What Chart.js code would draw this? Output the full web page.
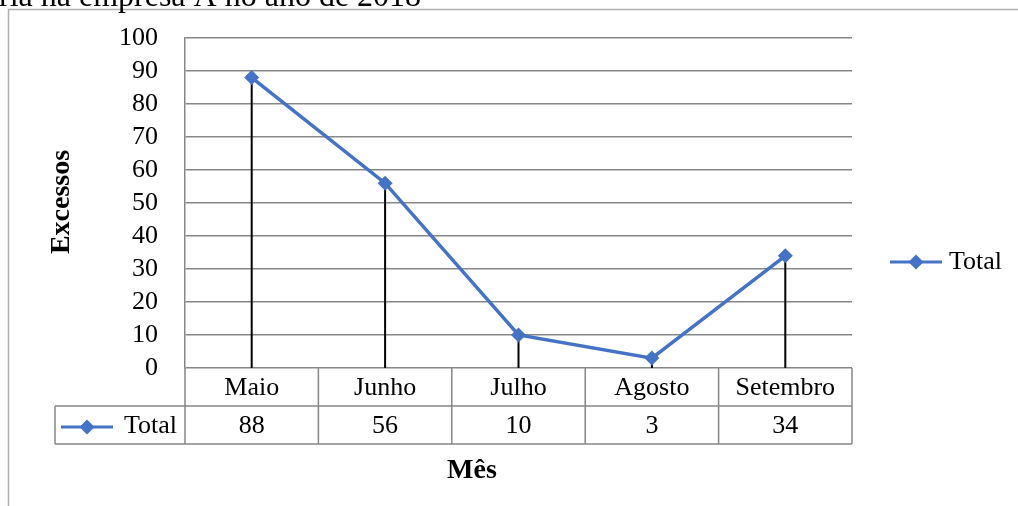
<!DOCTYPE html>
<html>
<head>
<meta charset="utf-8">
<script src="https://cdn.jsdelivr.net/npm/chart.js@4/dist/chart.umd.min.js"></script>
<style>
  body { margin: 0; background: #fff; }
  canvas { display: block; }
</style>
</head>
<body>
<canvas id="chart" width="1018" height="506"></canvas>
<script>
// data
const months = ['Maio', 'Junho', 'Julho', 'Agosto', 'Setembro'];
const totals = [88, 56, 10, 3, 34];
const seriesName = 'Total';
const yMax = 100;
const yStep = 10;

const blue = '#4472C4';
const grey = '#878787';
const serif = '"Liberation Serif", "Times New Roman", serif';

function diamond(ctx, x, y, r) {
    ctx.beginPath();
    ctx.moveTo(x, y - r);
    ctx.lineTo(x + r, y);
    ctx.lineTo(x, y + r);
    ctx.lineTo(x - r, y);
    ctx.closePath();
    ctx.fill();
}

function legendKey(ctx, x1, x2, y) {
    ctx.strokeStyle = blue;
    ctx.lineWidth = 3;
    ctx.beginPath();
    ctx.moveTo(x1, y);
    ctx.lineTo(x2, y);
    ctx.stroke();
    ctx.fillStyle = blue;
    diamond(ctx, (x1 + x2) / 2, y, 7.5);
}

// drop lines under the series
const dropLines = {
    id: 'dropLines',
    beforeDatasetsDraw(chart) {
        const ctx = chart.ctx;
        const bottom = chart.chartArea.bottom;
        ctx.save();
        ctx.strokeStyle = '#000';
        ctx.lineWidth = 2;
        chart.getDatasetMeta(0).data.forEach(pt => {
            ctx.beginPath();
            ctx.moveTo(pt.x, pt.y);
            ctx.lineTo(pt.x, bottom);
            ctx.stroke();
        });
        ctx.restore();
    }
};

// frame, titles, data table and legend
const extras = {
    id: 'extras',
    afterDraw(chart) {
        const ctx = chart.ctx;
        const area = chart.chartArea;
        const xScale = chart.scales.x;
        ctx.save();

        // outer chart border (partly outside the picture)
        ctx.strokeStyle = '#b0b0b0';
        ctx.lineWidth = 1.5;
        ctx.beginPath();
        ctx.moveTo(8.5, 510);
        ctx.lineTo(8.5, 9.5);
        ctx.lineTo(1020, 9.5);
        ctx.stroke();

        // cut-off caption above the chart
        ctx.fillStyle = '#000';
        ctx.font = '32px ' + serif;
        ctx.textAlign = 'left';
        ctx.textBaseline = 'alphabetic';
        ctx.fillText('ria na empresa A no ano de 2018', -1, 6);

        // y axis title
        ctx.font = 'bold 28px ' + serif;
        ctx.textAlign = 'center';
        ctx.textBaseline = 'middle';
        ctx.save();
        ctx.translate(62, 202);
        ctx.rotate(-Math.PI / 2);
        ctx.fillText('Excessos', 0, 0);
        ctx.restore();

        // data table
        const colW = (area.right - area.left) / months.length;
        const row1 = area.bottom, row2 = 406, row3 = 444;
        const legendLeft = 55;
        ctx.strokeStyle = grey;
        ctx.lineWidth = 1.5;
        ctx.beginPath();
        ctx.moveTo(area.left, row1); ctx.lineTo(area.left, row3);
        ctx.moveTo(legendLeft, row2); ctx.lineTo(area.right, row2);
        ctx.moveTo(legendLeft, row3); ctx.lineTo(area.right, row3);
        ctx.moveTo(legendLeft, row2); ctx.lineTo(legendLeft, row3);
        for (let i = 1; i <= months.length; i++) {
            const x = area.left + colW * i;
            ctx.moveTo(x, row1); ctx.lineTo(x, row3);
        }
        ctx.stroke();

        ctx.fillStyle = '#000';
        ctx.font = '26px ' + serif;
        ctx.textAlign = 'center';
        months.forEach((m, i) => {
            const x = xScale.getPixelForValue(i);
            ctx.fillText(m, x, (row1 + row2) / 2 + 1);
            ctx.fillText(String(totals[i]), x, (row2 + row3) / 2 + 1);
        });

        // legend key inside the table
        legendKey(ctx, 61, 113, 427);
        ctx.fillStyle = '#000';
        ctx.textAlign = 'left';
        ctx.fillText(seriesName, 124, 426);

        // x axis title
        ctx.font = 'bold 28px ' + serif;
        ctx.textAlign = 'center';
        ctx.fillText('Mês', 472, 471);

        // legend on the right
        legendKey(ctx, 890, 942, 262);
        ctx.fillStyle = '#000';
        ctx.font = '26px ' + serif;
        ctx.textAlign = 'left';
        ctx.fillText(seriesName, 949, 262);

        ctx.restore();
    }
};

new Chart(document.getElementById('chart'), {
    type: 'line',
    data: {
        labels: months,
        datasets: [{
            label: seriesName,
            data: totals,
            borderColor: blue,
            backgroundColor: blue,
            borderWidth: 3.5,
            pointStyle: 'rectRot',
            pointRadius: 7.5,
            pointHoverRadius: 7.5,
            pointBorderWidth: 0,
            tension: 0
        }]
    },
    options: {
        responsive: false,
        animation: false,
        layout: { padding: { left: 0, right: 166, top: 38, bottom: 0 } },
        plugins: {
            legend: { display: false },
            tooltip: { enabled: false }
        },
        scales: {
            x: {
                offset: true,
                grid: { display: false },
                border: { display: false },
                ticks: { display: false },
                afterFit(scale) { scale.height = 138; }
            },
            y: {
                min: 0,
                max: yMax,
                ticks: {
                    stepSize: yStep,
                    autoSkip: false,
                    padding: 27,
                    color: '#000',
                    font: { family: serif, size: 26 }
                },
                grid: { color: grey, lineWidth: 1.5, drawTicks: false },
                border: { display: true, color: grey, width: 1.5 },
                afterFit(scale) {
                    scale.width = 185;
                    scale.paddingTop = 0;
                    scale.paddingBottom = 0;
                }
            }
        }
    },
    plugins: [dropLines, extras]
});
</script>
</body>
</html>
